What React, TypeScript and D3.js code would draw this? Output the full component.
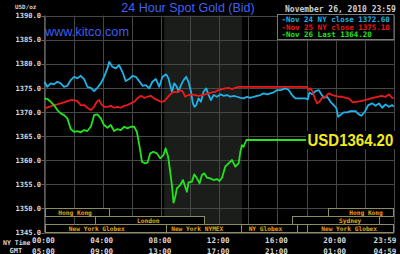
import React, { useEffect } from 'react';
import * as d3 from 'd3';

const W = 400;
const H = 254;

const yTicks = [1345, 1350, 1355, 1360, 1365, 1370, 1375, 1380, 1385, 1390];
const gridHours = [0, 2, 4, 6, 8, 10, 12, 14, 16, 18, 20, 22, 24];
const timeTickHours = [0, 4, 8, 12, 16, 20, 23.98];
const nyTimeLabels = ['00:00', '04:00', '08:00', '12:00', '16:00', '20:00', '23:59'];
const gmtLabels = ['05:00', '09:00', '13:00', '17:00', '21:00', '01:00', '04:59'];
const comexHours = [8.22, 13.56];

// Nov 24 (cyan): [hour NY, price]
const nov24: [number, number][] = [
  [0, 1376.28], [0.19, 1375.24], [0.43, 1375.95], [0.65, 1375.74], [0.88, 1376.28], [1.11, 1375.95],
  [1.34, 1375.24], [1.57, 1375.45], [1.8, 1376.63], [2.03, 1377.31], [2.26, 1376.98], [2.49, 1377.52],
  [2.72, 1376.84], [2.94, 1375.24], [3.18, 1375.03], [3.4, 1374.35], [3.63, 1375.03], [3.87, 1375.95],
  [4.09, 1377.31], [4.32, 1379.05], [4.44, 1380.42], [4.66, 1379.39], [4.9, 1379.05], [5.12, 1379.74],
  [5.35, 1378.35], [5.58, 1376.42], [5.81, 1376.84], [6.04, 1377.52], [6.27, 1377.31], [6.5, 1376.42],
  [6.73, 1375.45], [6.96, 1375.59], [7.19, 1374.91], [7.41, 1376.28], [7.65, 1376.84], [7.88, 1375.24],
  [8.1, 1377.31], [8.36, 1377.81], [8.51, 1376.98], [8.63, 1375.59], [8.75, 1374.2], [8.91, 1375.95],
  [9.09, 1375.24], [9.2, 1374.2], [9.37, 1375.59], [9.55, 1376.63], [9.73, 1377.31], [9.89, 1376.28],
  [10.06, 1374.2], [10.19, 1371.8], [10.3, 1371.09], [10.42, 1371.45], [10.58, 1372.84], [10.74, 1372.13],
  [10.92, 1374.2], [11.11, 1374.91], [11.27, 1373.52], [11.43, 1372.48], [11.61, 1373.52], [11.84, 1373.17],
  [12.07, 1373.66], [12.3, 1373.37], [12.53, 1373.52], [12.76, 1373.17], [12.99, 1373.37], [13.22, 1373.17],
  [13.45, 1372.96], [13.67, 1372.84], [13.91, 1373.17], [14.13, 1372.96], [14.36, 1373.17], [14.6, 1373.37],
  [14.82, 1373.52], [15.05, 1373.87], [15.28, 1373.66], [15.51, 1373.87], [15.74, 1374.08], [15.97, 1374.56],
  [16.2, 1374.56], [16.54, 1374.91], [16.77, 1374.56], [17.0, 1373.52], [17.23, 1372.84], [17.57, 1372.84],
  [17.92, 1372.84], [18.08, 1372.63], [18.19, 1374.08], [18.38, 1373.66], [18.61, 1374.35], [18.83, 1374.56],
  [19.02, 1373.66], [19.18, 1372.96], [19.41, 1373.17], [19.64, 1372.13], [19.86, 1371.45], [20.03, 1370.89],
  [20.17, 1369.02], [20.32, 1369.37], [20.55, 1369.93], [20.79, 1369.93], [21.01, 1370.2], [21.36, 1370.2],
  [21.58, 1369.52], [21.77, 1369.23], [22.0, 1370.06], [22.23, 1371.45], [22.51, 1371.8], [22.73, 1371.3],
  [22.96, 1371.8], [23.19, 1370.89], [23.42, 1371.59], [23.65, 1371.09], [23.88, 1371.45], [23.98, 1371.09],
];

// Nov 25 (red)
const nov25: [number, number][] = [
  [0, 1370.76], [0.31, 1371.09], [0.65, 1371.45], [0.88, 1371.59], [1.11, 1371.8], [1.34, 1372.01],
  [1.57, 1372.28], [1.8, 1372.48], [2.03, 1372.48], [2.26, 1372.28], [2.49, 1371.45], [2.72, 1371.45],
  [2.94, 1370.89], [3.18, 1370.41], [3.4, 1371.09], [3.59, 1372.13], [3.75, 1372.48], [3.91, 1371.59],
  [4.09, 1371.09], [4.32, 1371.09], [4.55, 1371.3], [4.78, 1370.89], [5.01, 1371.09], [5.24, 1370.89],
  [5.47, 1371.3], [5.69, 1371.45], [5.93, 1371.8], [6.16, 1372.13], [6.38, 1372.84], [6.62, 1373.37],
  [6.84, 1372.96], [7.07, 1373.17], [7.3, 1373.37], [7.53, 1372.84], [7.76, 1372.48], [7.99, 1372.13],
  [8.22, 1372.28], [8.4, 1372.84], [8.63, 1373.66], [8.86, 1374.2], [9.09, 1374.08], [9.32, 1374.56],
  [9.51, 1374.2], [9.66, 1373.17], [9.89, 1373.52], [10.12, 1373.66], [10.35, 1373.52], [10.58, 1373.37],
  [10.81, 1373.52], [11.04, 1373.66], [11.27, 1373.87], [11.5, 1374.08], [11.73, 1374.2], [11.95, 1374.56],
  [12.19, 1374.76], [12.41, 1374.91], [12.64, 1375.03], [12.88, 1374.76], [13.1, 1375.03], [13.33, 1375.2],
  [13.56, 1375.2], [18.03, 1375.2], [18.14, 1374.56], [18.26, 1374.91], [18.42, 1374.2], [18.56, 1372.84],
  [18.72, 1371.8], [18.88, 1372.13], [19.07, 1372.96], [19.29, 1373.17], [19.52, 1373.87], [19.75, 1373.52],
  [19.98, 1373.37], [20.21, 1373.17], [20.44, 1373.17], [20.67, 1372.96], [20.9, 1372.84], [21.17, 1372.01],
  [21.4, 1372.13], [21.7, 1372.28], [22.0, 1372.48], [22.27, 1372.69], [22.55, 1372.96], [22.85, 1373.17],
  [23.14, 1373.37], [23.42, 1373.17], [23.65, 1373.66], [23.88, 1372.96], [23.98, 1372.84],
];

// Nov 26 (green)
const nov26: [number, number][] = [
  [0, 1372.84], [0.19, 1372.69], [0.43, 1372.13], [0.65, 1371.45], [0.88, 1370.41], [1.11, 1369.73],
  [1.34, 1369.37], [1.57, 1368.69], [1.8, 1366.47], [2.03, 1365.91], [2.26, 1366.06], [2.49, 1365.79],
  [2.72, 1366.26], [2.94, 1366.06], [3.18, 1366.95], [3.32, 1368.34], [3.4, 1369.37], [3.63, 1369.52],
  [3.87, 1368.69], [4.09, 1367.3], [4.32, 1366.74], [4.55, 1367.3], [4.78, 1366.06], [5.01, 1366.47],
  [5.24, 1366.26], [5.47, 1366.95], [5.69, 1366.62], [5.93, 1366.95], [6.16, 1366.95], [6.34, 1365.91],
  [6.45, 1364.19], [6.57, 1362.12], [6.69, 1359.69], [6.91, 1359.36], [7.07, 1359.49], [7.26, 1361.43],
  [7.48, 1361.77], [7.72, 1361.43], [7.94, 1360.4], [8.17, 1361.08], [8.32, 1362.47], [8.49, 1360.73],
  [8.63, 1357.62], [8.75, 1354.86], [8.86, 1351.2], [8.98, 1352.44], [9.09, 1354.18], [9.32, 1354.86],
  [9.51, 1355.9], [9.66, 1354.51], [9.78, 1353.47], [9.89, 1355.42], [10.12, 1355.55], [10.28, 1357.08],
  [10.47, 1356.25], [10.65, 1355.21], [10.81, 1356.94], [10.97, 1357.29], [11.16, 1356.38], [11.38, 1356.25],
  [11.61, 1355.9], [11.84, 1356.11], [12.02, 1355.69], [12.19, 1356.38], [12.41, 1358.66], [12.64, 1359.36],
  [12.88, 1360.05], [13.1, 1358.66], [13.33, 1359.36], [13.45, 1361.77], [13.56, 1363.15], [13.67, 1362.8],
  [13.86, 1364.2], [23.98, 1364.2],
];

const seriesColors = ['#1cb4ea', '#ee1a1a', '#22e41c'];
const legendLabels = ['-Nov 24 NY close 1372.60', '-Nov 25 NY close 1375.10', '-Nov 26 Last 1364.20'];
const lastPrice = 1364.2;

// market sessions: row, name, start hour, end hour, label hour
const sessionRow = [0, 0, 1, 1, 2, 2, 2, 2, 2];
const sessionNames = ['Hong Kong', 'Hong Kong', 'London', 'Sydney', 'New York Globex', 'New York NYMEX', 'NY Globex', '', 'New York Globex'];
const sessionStart = [0, 19.5, 3.47, 17.0, 0, 8.33, 13.5, 17.33, 18.0];
const sessionEnd = [4.45, 24, 10.97, 23.0, 8.33, 13.5, 17.33, 18.0, 24];
const sessionLabelAt = [2.1, 22.08, 7.12, 20.99, 3.59, 10.49, 15.17, 17.67, 20.92];

const MONO = "'DejaVu Sans Mono', 'Liberation Mono', monospace";
const SANS = "'Liberation Sans', Arial, sans-serif";

export default function App() {
  useEffect(() => {
    document.body.style.margin = '0';
    document.body.style.background = '#000';
  }, []);

  const x = d3.scaleLinear().domain([0, 24]).range([44.5, 394]);
  const y = d3.scaleLinear().domain([1345, 1390]).range([232.6, 15.6]);
  const line = d3.line<[number, number]>().x(d => x(d[0])).y(d => y(d[1]));
  const px = (v: number) => Math.round(v) + 0.5;

  const series = [nov24, nov25, nov26];
  const rowTop = (r: number) => 208.5 + r * 8;
  const ly = y(lastPrice);

  return (
    <svg width={W} height={H} style={{ display: 'block', position: 'absolute', left: 0, top: 0 }}>
      <rect x={0} y={0} width={W} height={H} fill="#000" />
      {/* COMEX shading */}
      <rect x={x(comexHours[0])} y={y(1390)} width={x(comexHours[1]) - x(comexHours[0])} height={y(1345) - y(1390)} fill="#1b1d1b" />
      {/* grid */}
      {yTicks.map(t => (
        <line key={'h' + t} x1={x(0)} x2={x(24)} y1={px(y(t))} y2={px(y(t))} stroke="#474747" strokeWidth={1} />
      ))}
      {gridHours.map(h => (
        <line key={'v' + h} x1={px(x(h))} x2={px(x(h))} y1={y(1390)} y2={y(1345)} stroke="#474747" strokeWidth={1} />
      ))}
      {yTicks.map(t => (
        <line key={'t' + t} x1={x(0) - 3} x2={x(0)} y1={px(y(t))} y2={px(y(t))} stroke="#666" strokeWidth={1} />
      ))}
      <line x1={px(x(0)) - 1} x2={px(x(0)) - 1} y1={y(1390)} y2={y(1345)} stroke="#5a5a5a" strokeWidth={1} />

      {/* series */}
      {series.map((s, i) => (
        <path key={'s' + i} d={line(s) || ''} fill="none" stroke={seriesColors[i]} strokeWidth={1.8} strokeLinejoin="round" />
      ))}

      {/* last price label */}
      <rect x={306} y={ly - 9} width={90} height={18} fill="#000" />
      <text transform={`translate(307.5, ${ly + 6}) scale(1, 1.12)`} fontFamily={SANS} fontWeight="bold" fontSize={15} fill="#f2ea1c">
        {'USD' + lastPrice.toFixed(2)}
      </text>

      {/* market sessions */}
      {sessionNames.map((n, i) => {
        const x0 = Math.round(x(sessionStart[i])) + 0.5;
        const x1 = Math.min(Math.round(x(sessionEnd[i])) + 0.5, 393.5);
        const top = rowTop(sessionRow[i]);
        return (
          <g key={'m' + i}>
            <rect x={x0} y={top} width={x1 - x0} height={8} fill="#000" stroke="#8e8e5c" strokeWidth={1} />
            <text x={x(sessionLabelAt[i])} y={top + 6.3} textAnchor="middle" fontFamily={MONO} fontWeight="bold" fontSize={6.2} fill="#e4a614">{n}</text>
          </g>
        );
      })}

      {/* y labels */}
      {yTicks.map(t => (
        <text key={'yl' + t} x={41} y={y(t) + 2.6} textAnchor="end" fontFamily={MONO} fontWeight="bold" fontSize={7.1} fill="#d8d8d8">{t.toFixed(1)}</text>
      ))}

      {/* x labels */}
      {timeTickHours.map((h, i) => {
        const cx = Math.min(x(h) - 1, 385);
        return (
          <g key={'xl' + i}>
            <text x={cx} y={242.8} textAnchor="middle" fontFamily={MONO} fontWeight="bold" fontSize={7.6} fill="#d8d8d8">{nyTimeLabels[i]}</text>
            <text x={cx} y={253.5} textAnchor="middle" fontFamily={MONO} fontWeight="bold" fontSize={7.6} fill="#d8d8d8">{gmtLabels[i]}</text>
          </g>
        );
      })}
      <text x={3} y={244.5} fontFamily={MONO} fontWeight="bold" fontSize={6.5} fill="#d8d8d8">NY Time</text>
      <text x={9.5} y={252.5} fontFamily={MONO} fontWeight="bold" fontSize={7} fill="#d8d8d8">GMT</text>

      {/* header */}
      <text x={15} y={8.5} fontFamily={MONO} fontWeight="bold" fontSize={5.9} fill="#d8d8d8">USD/oz</text>
      <text x={188} y={11.7} textAnchor="middle" fontFamily={SANS} fontSize={12.5} fill="#3f63f0">24 Hour Spot Gold (Bid)</text>
      <text x={285} y={12.4} fontFamily={MONO} fontWeight="bold" fontSize={8} fill="#cfcfcf">November 26, 2010 23:59</text>
      <text x={45} y={36} fontFamily={SANS} fontSize={12} fill="#3a5ef2" textLength={84} lengthAdjust="spacingAndGlyphs">www.kitco.com</text>

      {/* legend */}
      <rect x={277.5} y={14.5} width={116.5} height={25} fill="#000" stroke="#7a7a7a" strokeWidth={1} />
      {legendLabels.map((l, i) => (
        <text key={'lg' + i} x={281.5} y={22 + i * 7.5} fontFamily={MONO} fontWeight="bold" fontSize={7.5} fill={seriesColors[i]}>{l}</text>
      ))}
    </svg>
  );
}
